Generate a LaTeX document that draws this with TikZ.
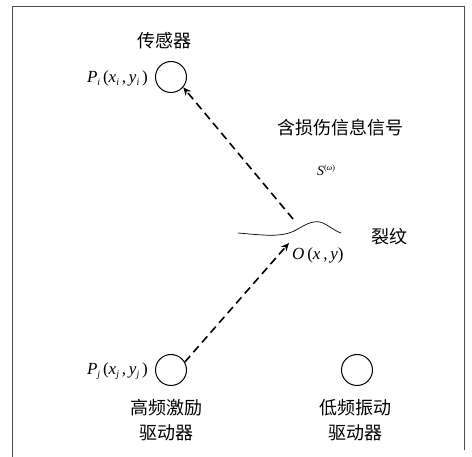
\documentclass[tikz,border=0pt]{standalone}
\usepackage{fontspec}
\setmainfont{Liberation Serif}
\newfontfamily\cjk{Noto Sans CJK SC}
\usetikzlibrary{arrows.meta}
\newcommand{\iv}[1]{\textit{#1}}
\newcommand{\sbx}[1]{\raisebox{-3pt}{\fontsize{10}{10}\selectfont\itshape #1}}
\begin{document}
\begin{tikzpicture}[x=1pt,y=-1pt,
  dev/.style={draw,circle,line width=1pt,minimum size=31pt,inner sep=0pt},
  zh/.style={font=\cjk\fontsize{18}{20}\selectfont,inner sep=0pt},
  lbl/.style={font=\fontsize{17}{19}\selectfont,inner sep=0pt},
  sig/.style={line width=1.6pt,dash pattern=on 8pt off 5pt,-{Stealth[length=8pt,width=7pt]}}]
\useasboundingbox (0,0) rectangle (472,457);
\draw[line width=0.8pt,gray!60!black] (12,457) -- (12,6) -- (464,6) -- (464,450);
\node[dev] (si) at (171,77) {};
\node[dev] (dj) at (171,370) {};
\node[dev] (dl) at (357,370) {};
\node[zh] (tsen) at (164,41) {传感器};
\node[lbl,anchor=east] (pi) at (148,78) {\iv{P}\sbx{i}\,(\iv{x}\sbx{i}\,,\,\iv{y}\sbx{i}\,)};
\node[zh] (tsig) at (340,128) {含损伤信息信号};
\node[lbl,font=\fontsize{14}{16}\selectfont] (s) at (326,170) {\iv{S}\raisebox{5pt}{\fontsize{8}{8}\selectfont(\iv{ω})}};
\draw[line width=0.7pt] (238,233) .. controls (262,235) and (282,238) .. (296,230)
  .. controls (305,225) and (315,218) .. (325,224) .. controls (332,228) and (337,232) .. (341,233);
\coordinate (o) at (289,243);
\coordinate (otop) at (293,219);
\node[lbl,anchor=west] (ol) at (292,255) {\iv{O}\,(\iv{x}\,,\,\iv{y})};
\node[zh] (crk) at (389,237) {裂纹};
\node[lbl,anchor=east] (pj) at (148,371) {\iv{P}\sbx{j}\,(\iv{x}\sbx{j}\,,\,\iv{y}\sbx{j}\,)};
\node[zh] (h1) at (166,408) {高频激励};
\node[zh] (h2) at (166,433) {驱动器};
\node[zh] (l1) at (355,408) {低频振动};
\node[zh] (l2) at (355,433) {驱动器};
\draw[sig] (dj.30) -- (o);
\draw[sig] (otop) -- (si.-40);
\end{tikzpicture}
\end{document}
